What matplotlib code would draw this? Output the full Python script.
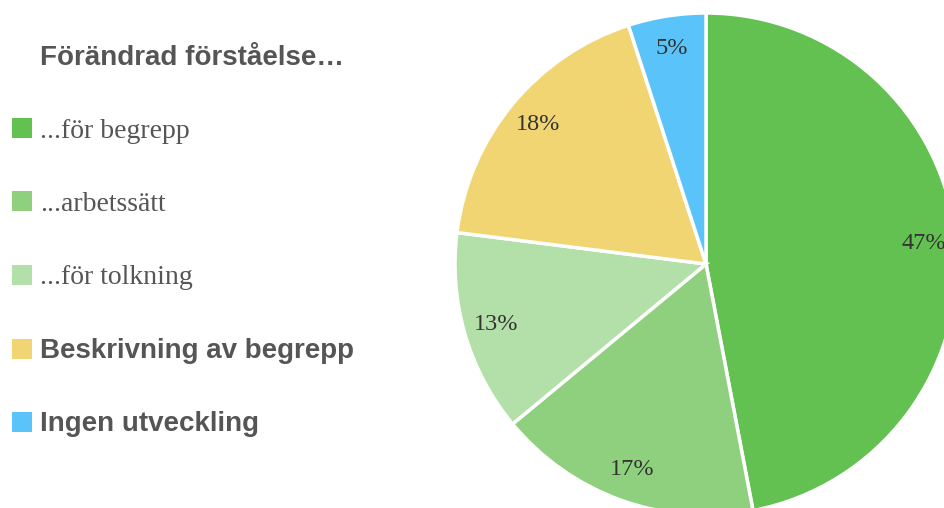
import matplotlib
matplotlib.use('Agg')
import matplotlib.pyplot as plt
from matplotlib.patches import Rectangle

# data
labels = ['...för begrepp', '...arbetssätt', '...för tolkning',
          'Beskrivning av begrepp', 'Ingen utveckling']
values = [47, 17, 13, 18, 5]
colors = ['#63C151', '#8ED07E', '#B3DFA8', '#F0D572', '#5AC3F9']
legend_title = 'Förändrad förståelse…'
bold_entry = [False, False, False, True, True]

W, H = 945, 508
fig = plt.figure(figsize=(W / 100, H / 100), dpi=100)
fig.patch.set_facecolor('white')

# pie axes: centre ~ (706, 264) px, radius ~ 250 px
cx, cy, r = 706, 264, 251
ax = fig.add_axes([(cx - r) / W, (H - cy - r) / H, 2 * r / W, 2 * r / H])
wedges, texts, autotexts = ax.pie(
    values, colors=colors, startangle=90, counterclock=False, radius=1,
    autopct='%d%%', pctdistance=0.87,
    wedgeprops=dict(edgecolor='white', linewidth=2.5),
    textprops=dict(family='Liberation Serif', fontsize=17.5, color='#333333'))
ax.set_xlim(-1, 1)
ax.set_ylim(-1, 1)
ax.set_aspect('equal')
ax.axis('off')

# legend drawn by hand
fig.text(40 / W, 1 - 58 / H, legend_title, family='Liberation Sans',
         fontweight='bold', fontsize=20, color='#555555', va='center')
y0, dy = 128, 73.5
for i, (lab, col) in enumerate(zip(labels, colors)):
    y = y0 + i * dy
    fig.patches.append(Rectangle((12 / W, 1 - (y + 10) / H), 20 / W, 20 / H,
                                 transform=fig.transFigure, facecolor=col,
                                 edgecolor='none'))
    if bold_entry[i]:
        fig.text(40 / W, 1 - (y + 2) / H, lab, family='Liberation Sans',
                 fontweight='bold', fontsize=20, color='#555555', va='center')
    else:
        fig.text(40 / W, 1 - (y + 3) / H, lab, family='Liberation Serif',
                 fontsize=20, color='#555555', va='center')

fig.savefig('out.png', dpi=100)
